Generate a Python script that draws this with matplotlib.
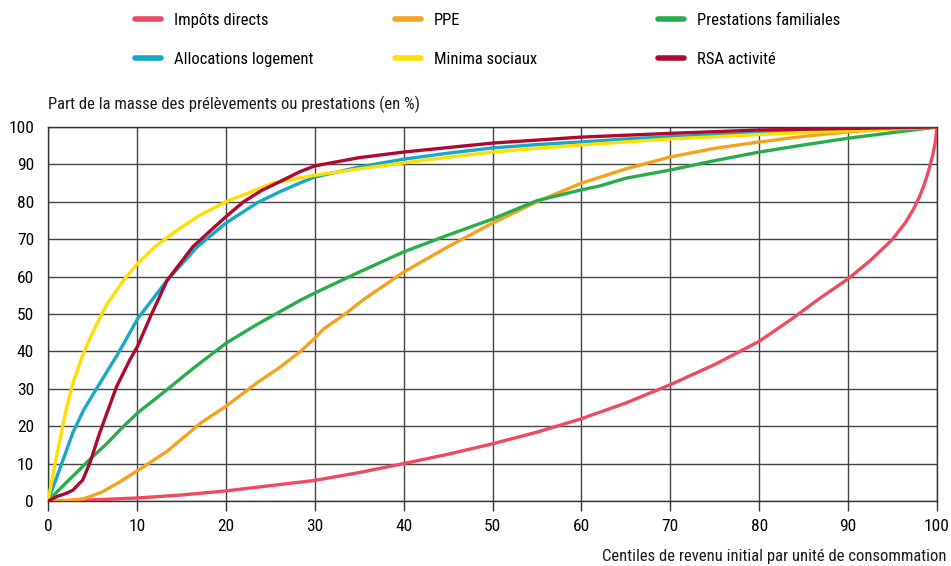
import matplotlib
matplotlib.use("Agg")
import matplotlib.pyplot as plt
from matplotlib import font_manager

# pick a narrow face if one is installed, the reference uses a condensed font
available = {f.name for f in font_manager.fontManager.ttflist}
narrow = [n for n in ['Liberation Sans Narrow', 'DejaVu Sans Condensed', 'Roboto Condensed',
                      'Open Sans Condensed', 'Liberation Sans'] if n in available]
plt.rcParams['font.family'] = narrow[:1] + ['DejaVu Sans']
if narrow and narrow[0] == 'DejaVu Sans Condensed':
    plt.rcParams['font.stretch'] = 'condensed'

# Centiles and cumulative shares (in %)
impots_x = [0, 5, 10, 15, 20, 25, 30, 35, 40, 45, 50, 55, 60, 65, 70, 75, 80, 83.5, 87, 90, 92.5, 95, 96.5, 97.3, 98, 98.5, 99, 99.5, 99.8, 100]
impots_y = [0, 0.3, 0.8, 1.6, 2.7, 4.1, 5.5, 7.6, 10.0, 12.5, 15.3, 18.4, 22.0, 26.2, 31.1, 36.5, 42.7, 48.4, 54.5, 59.4, 64.3, 70.0, 74.6, 77.8, 81.2, 84.2, 87.8, 92.3, 95.8, 100]

ppe_x = [0, 2, 4, 6, 8, 10, 13.4, 17.2, 20, 23.5, 26, 28.4, 30, 31, 33.6, 35.4, 40, 45, 50, 55, 60, 62, 65, 70, 75, 80, 85, 90, 95, 100]
ppe_y = [0, 0.1, 0.6, 2.3, 5, 8, 13.3, 20.9, 25.3, 31.6, 35.6, 40, 43.5, 46, 50.3, 53.7, 61.2, 68, 74.3, 80, 85, 86.5, 88.8, 92, 94.3, 96, 97.5, 98.7, 99.5, 100]

fam_x = [0, 2, 3.6, 5, 6.6, 8.3, 10.1, 13.4, 16.4, 20.1, 23.5, 26, 28.4, 30, 35, 40, 45, 50, 55, 60, 62, 65, 70, 75, 80, 85, 90, 95, 100]
fam_y = [0, 4.8, 8.5, 11.8, 15.3, 19.5, 23.6, 29.8, 35.6, 42.3, 47.2, 50.5, 53.7, 55.6, 61.2, 66.6, 71.1, 75.4, 80.3, 83.2, 84.2, 86.3, 88.5, 91, 93.3, 95.2, 97, 98.5, 100]

logement_x = [0, 1, 2, 2.8, 4, 5.5, 7.9, 10.1, 13.4, 16.8, 20, 23.5, 26, 28.3, 30, 35, 40, 45, 50, 55, 60, 65, 70, 80, 90, 100]
logement_y = [0, 6.5, 13, 18.3, 24.3, 30.2, 39.5, 48.8, 59, 68, 74.3, 79.7, 82.6, 85, 86.6, 89.3, 91.4, 93, 94.4, 95.3, 96, 96.8, 97.4, 98.4, 99.2, 100]

minima_x = [0, 1, 2, 2.8, 3.9, 5, 6.6, 8.5, 10.1, 12, 14.1, 17, 20, 25.3, 30, 35, 40, 45, 50, 55, 60, 70, 80, 90, 100]
minima_y = [0, 12.5, 24, 31.5, 39, 45, 52.5, 59, 63.6, 67.9, 71.7, 76.3, 80, 85, 87.1, 88.8, 90.4, 91.9, 93.3, 94.3, 95.2, 96.8, 98, 99, 100]

rsa_x = [0, 1, 2, 2.8, 3.9, 4.7, 5.8, 7.7, 9.2, 10.1, 11.5, 13.4, 16.3, 20, 22, 24, 26, 28.3, 30, 35, 40, 45, 50, 55, 60, 70, 80, 90, 100]
rsa_y = [0, 1.2, 2, 2.9, 5.6, 10.1, 18.1, 30.5, 37.7, 41.5, 49.2, 59, 68, 76, 80, 83, 85.3, 88, 89.6, 91.8, 93.3, 94.5, 95.7, 96.5, 97.3, 98.3, 99.2, 99.6, 100]

fig = plt.figure(figsize=(9.51, 5.66), dpi=100)
ax = fig.add_axes([48 / 951, 1 - 501 / 566, 889 / 951, 374 / 566])

lw = 2.4
l_imp, = ax.plot(impots_x, impots_y, color='#EE4B5E', lw=lw, label='Impôts directs', zorder=3)
l_ppe, = ax.plot(ppe_x, ppe_y, color='#F5A31F', lw=lw, label='PPE', zorder=3)
l_fam, = ax.plot(fam_x, fam_y, color='#27AE4A', lw=lw, label='Prestations familiales', zorder=3)
l_log, = ax.plot(logement_x, logement_y, color='#16A8C8', lw=lw, label='Allocations logement', zorder=3)
l_min, = ax.plot(minima_x, minima_y, color='#FFDE00', lw=lw, label='Minima sociaux', zorder=3)
l_rsa, = ax.plot(rsa_x, rsa_y, color='#AE0A2F', lw=lw, label='RSA activité', zorder=3)

ax.set_xlim(0, 100)
ax.set_ylim(0, 100)
ax.set_xticks(range(0, 101, 10))
ax.set_yticks(range(0, 101, 10))
ax.grid(True, color='#444444', lw=1)
for s in ax.spines.values():
    s.set_color('#333333')
    s.set_linewidth(1)
ax.tick_params(axis='x', length=7, width=1, color='#333333', labelsize=12.5, pad=6)
ax.tick_params(axis='y', length=0, labelsize=12.5, pad=10)

fig.text(48 / 951, 1 - 104 / 566, 'Part de la masse des prélèvements ou prestations (en %)',
         fontsize=12, ha='left', va='center', color='#1a1a1a')
fig.text(946 / 951, 1 - 557 / 566, 'Centiles de revenu initial par unité de consommation',
         fontsize=12, ha='right', va='center', color='#1a1a1a')

# one small legend per column so each column starts where the reference puts it
columns = [(135, [l_imp, l_log]), (395, [l_ppe, l_min]), (658, [l_fam, l_rsa])]
for x0, hs in columns:
    leg = fig.legend(handles=hs, labels=[h.get_label() for h in hs], loc='upper left',
                     bbox_to_anchor=(x0 / 951, 1 - 13 / 566), borderaxespad=0, borderpad=0,
                     frameon=False, fontsize=12, handlelength=1.55, handletextpad=0.8,
                     labelspacing=1.45)
    for h in leg.get_lines():
        h.set_linewidth(4)
        h.set_solid_capstyle('round')

fig.savefig('out.png', dpi=100)
